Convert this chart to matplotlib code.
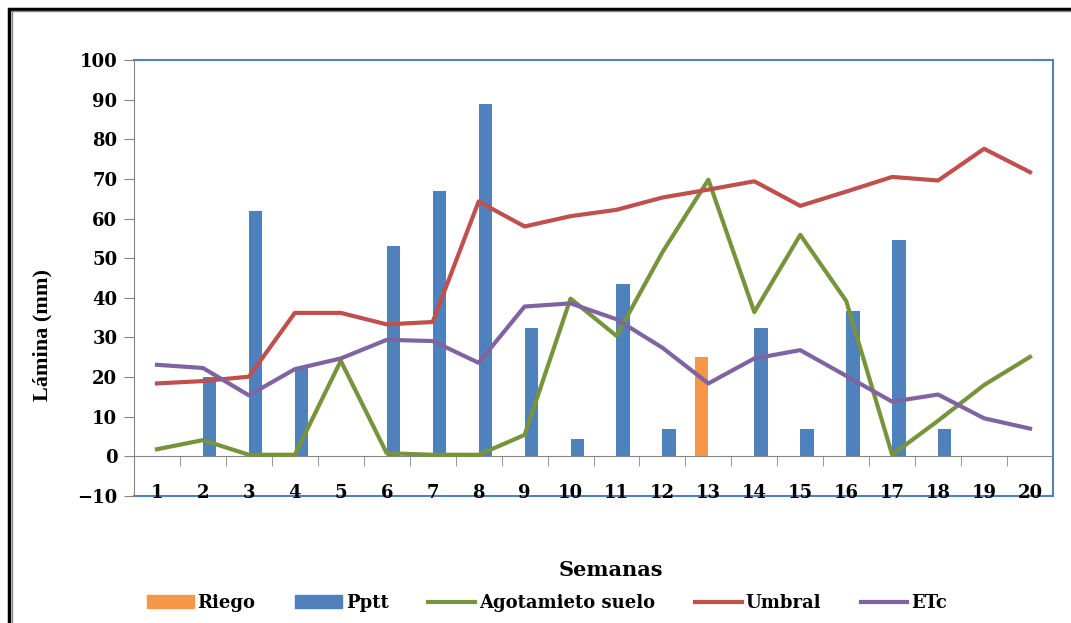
import matplotlib.pyplot as plt
import numpy as np
from matplotlib.patches import Rectangle
from matplotlib.lines import Line2D

plt.rcParams['font.family'] = ['DejaVu Serif']
plt.rcParams['font.weight'] = 'bold'

semanas = list(range(1, 21))
riego = [0, 0, 0, 0, 0, 0, 0, 0, 0, 0, 0, 0, 25, 0, 0, 0, 0, 0, 0, 0]
pptt = [0, 20, 62, 22.5, 0, 53, 67, 89, 32.5, 4.3, 43.6, 6.8, 0, 32.5, 6.8, 36.6, 54.5, 6.8, 0, 0]
agotamiento = [1.8, 4.1, 0.4, 0.4, 24.1, 0.8, 0.4, 0.4, 5.4, 39.8, 30.4, 51.5, 69.8, 36.4, 55.9, 39.2, 0.4, 9.0, 18.0, 25.1]
umbral = [18.4, 19.0, 20.1, 36.2, 36.2, 33.3, 33.9, 64.3, 58.0, 60.6, 62.2, 65.3, 67.3, 69.4, 63.2, 66.8, 70.5, 69.6, 77.6, 71.7]
etc = [23.1, 22.3, 15.4, 22.0, 24.7, 29.4, 29.1, 23.6, 37.8, 38.6, 34.6, 27.4, 18.4, 24.7, 26.8, 20.3, 13.8, 15.6, 9.6, 7.0]

c_riego = '#F79646'
c_pptt = '#4F81BD'
c_agot = '#77933C'
c_umbral = '#C0504D'
c_etc = '#8064A2'
gris = '#868686'

fig = plt.figure(figsize=(10.71, 6.23), dpi=100)
ax = fig.add_axes([134 / 1071, 1 - 496 / 623, 919 / 1071, 436 / 623])

x = np.arange(1, 21)
w = 0.29
ax.bar(x - w / 2, riego, w, color=c_riego, zorder=2)
ax.bar(x + w / 2, pptt, w, color=c_pptt, zorder=2)
ax.plot(x, agotamiento, color=c_agot, lw=3, zorder=3)
ax.plot(x, umbral, color=c_umbral, lw=3, zorder=3)
ax.plot(x, etc, color=c_etc, lw=3, zorder=3)

ax.set_xlim(0.5, 20.5)
ax.set_ylim(-10, 100)
ax.set_yticks(range(-10, 101, 10))
ax.tick_params(axis='y', direction='out', length=7, color=gris, labelsize=13, pad=5)

# eje X cruzando en cero, etiquetas debajo
ax.spines['bottom'].set_position(('data', 0))
ax.spines['bottom'].set_color(gris)
ax.spines['left'].set_color(gris)
for s in ('top', 'right'):
    ax.spines[s].set_color(c_pptt)
    ax.spines[s].set_linewidth(1.5)
ax.plot([0, 1], [0, 0], transform=ax.transAxes, color=c_pptt, lw=1.5, clip_on=False, zorder=1)

ax.set_xticks(x)
ax.set_xticklabels([str(s) for s in semanas])
ax.set_xticks(np.arange(0.5, 21, 1), minor=True)
ax.tick_params(axis='x', which='major', length=0, labelsize=13, pad=20)
ax.tick_params(axis='x', which='minor', direction='out', length=7, color=gris)

for lbl in ax.get_xticklabels() + ax.get_yticklabels():
    lbl.set_fontweight('bold')

fig.text(42 / 1071, 1 - 335 / 623, 'Lámina (mm)', rotation=90, ha='center', va='center',
         fontsize=16, fontweight='bold', family='Liberation Serif')
fig.text(611 / 1071, 1 - 570 / 623, 'Semanas', ha='center', va='center',
         fontsize=15, fontweight='bold')

handles = [
    Rectangle((0, 0), 1, 1, color=c_riego),
    Rectangle((0, 0), 1, 1, color=c_pptt),
    Line2D([], [], color=c_agot, lw=3),
    Line2D([], [], color=c_umbral, lw=3),
    Line2D([], [], color=c_etc, lw=3),
]
labels = ['Riego', 'Pptt', 'Agotamieto suelo', 'Umbral', 'ETc']
leg = fig.legend(handles, labels, loc='center', bbox_to_anchor=(547 / 1071, 1 - 603 / 623),
                 ncol=5, frameon=False, handlelength=2.6, handletextpad=0.2,
                 columnspacing=2.2, prop={'weight': 'bold', 'size': 13})

# marco exterior
fig.add_artist(Rectangle((9 / 1071, -0.1), 1.1, 1 - 9 / 623 + 0.1, transform=fig.transFigure,
                         fill=False, edgecolor='black', lw=2.5))
fig.add_artist(Rectangle((11.5 / 1071, -0.1), 1.1, 1 - 11.5 / 623 + 0.1, transform=fig.transFigure,
                         fill=False, edgecolor=gris, lw=1))

fig.savefig('out.png', dpi=100)
